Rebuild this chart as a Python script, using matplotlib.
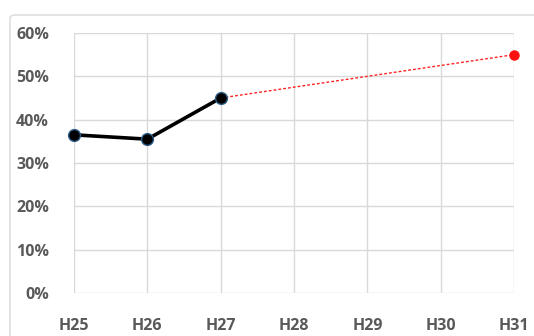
import matplotlib
matplotlib.use('Agg')
import matplotlib.pyplot as plt
from matplotlib.patches import FancyBboxPatch

YEARS = ['H25', 'H26', 'H27', 'H28', 'H29', 'H30', 'H31']
ACTUAL = [0.365, 0.355, 0.45]          # H25..H27
TARGET = [0.45, 0.55]                  # H27 -> H31 dashed target line
TARGET_IDX = [2, 6]
YTICKS = [0, 0.1, 0.2, 0.3, 0.4, 0.5, 0.6]

GRAY = '#595959'
GRID = '#d9d9d9'

plt.rcParams['font.family'] = ['Open Sans', 'DejaVu Sans']

fig = plt.figure(figsize=(5.34, 3.36), dpi=100)
fig.patch.set_facecolor('white')
fig.patches.append(FancyBboxPatch((10 / 534, -0.05), 530 / 534, 1 - 15 / 336 + 0.05,
                                  boxstyle='round,pad=0,rounding_size=0.01',
                                  transform=fig.transFigure, facecolor='none',
                                  edgecolor='#d9d9d9', linewidth=1.0, zorder=-1))

ax = fig.add_axes([74 / 534, 1 - 293 / 336, 440 / 534, 260 / 336])
ax.set_facecolor('none')
x = list(range(len(YEARS)))

ax.plot(TARGET_IDX, TARGET, color='#ff2020', linestyle=(0, (2, 1.5)), linewidth=1.0, zorder=3)
ax.plot(TARGET_IDX[-1], TARGET[-1], 'o', color='#ff1010', markersize=6.5, zorder=4, clip_on=False)
ax.plot(x[:len(ACTUAL)], ACTUAL, color='black', linewidth=2.6, zorder=5)
ax.plot(x[:len(ACTUAL)], ACTUAL, 'o', color='black', markersize=8.5,
        markeredgecolor='#2e5c8a', markeredgewidth=1.0, zorder=6, clip_on=False)

ax.set_xlim(0, len(YEARS) - 1)
ax.set_ylim(0, 0.6)
ax.set_xticks(x)
ax.set_xticklabels(YEARS)
ax.set_yticks(YTICKS)
ax.set_yticklabels([f'{int(round(v * 100))}%' for v in YTICKS])
ax.tick_params(length=0, labelsize=11.5, labelcolor=GRAY)
ax.tick_params(axis='x', pad=18)
ax.tick_params(axis='y', pad=18)
for lab in ax.get_xticklabels() + ax.get_yticklabels():
    lab.set_fontweight('bold')

ax.grid(True, color=GRID, linewidth=1.0)
ax.set_axisbelow(True)
for s in ax.spines.values():
    s.set_visible(False)

fig.savefig('out.png', dpi=100)
